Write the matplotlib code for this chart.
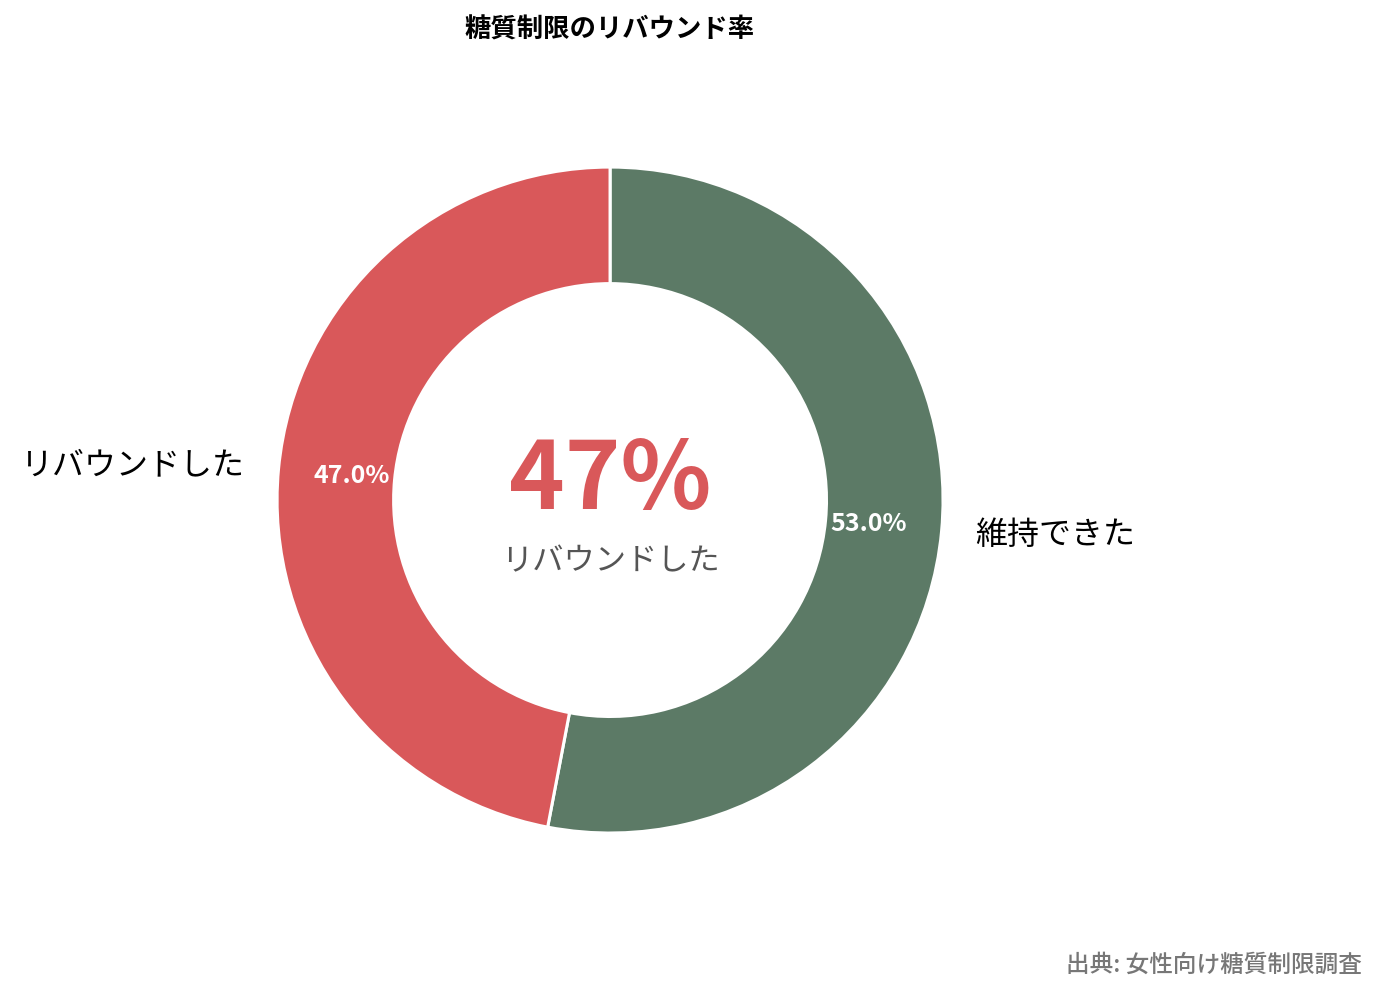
import matplotlib
matplotlib.use("Agg")
import matplotlib.pyplot as plt

plt.rcParams['font.family'] = ['Noto Sans CJK JP', 'DejaVu Sans']

labels = ["維持できた", "リバウンドした"]
values = [53.0, 47.0]
colors = ["#5c7a66", "#d9585a"]
title = "糖質制限のリバウンド率"
center_value = "47%"
center_label = "リバウンドした"
source = "出典: 女性向け糖質制限調査"

fig = plt.figure(figsize=(13.81, 9.98), dpi=100)
ax = fig.add_axes([0.2006, 0.1653, 0.4823, 0.6673])

wedges, texts, autotexts = ax.pie(
    values, labels=labels, colors=colors, startangle=90, counterclock=False,
    autopct='%1.1f%%', pctdistance=0.78, labeldistance=1.1,
    wedgeprops=dict(width=0.35, edgecolor='white', linewidth=2.2),
    textprops=dict(fontsize=23, color='black'))
for t in autotexts:
    t.set_color('white')
    t.set_fontsize(18)
    t.set_fontweight('bold')

ax.text(0, 0.055, center_value, ha='center', va='center', fontsize=68,
        fontweight='bold', color=colors[1])
ax.text(0, -0.185, center_label, ha='center', va='center', fontsize=22.5,
        color='#555555')
ax.set_xlim(-1, 1)
ax.set_ylim(-1, 1)
ax.set_aspect('equal')
ax.axis('off')

fig.text(0.4417, 0.970, title, ha='center', va='center', fontsize=19,
         fontweight='bold')
fig.text(0.986, 0.033, source, ha='right', va='center', fontsize=17,
         fontweight='medium', color='#777777')

fig.savefig("out.png", dpi=100)
